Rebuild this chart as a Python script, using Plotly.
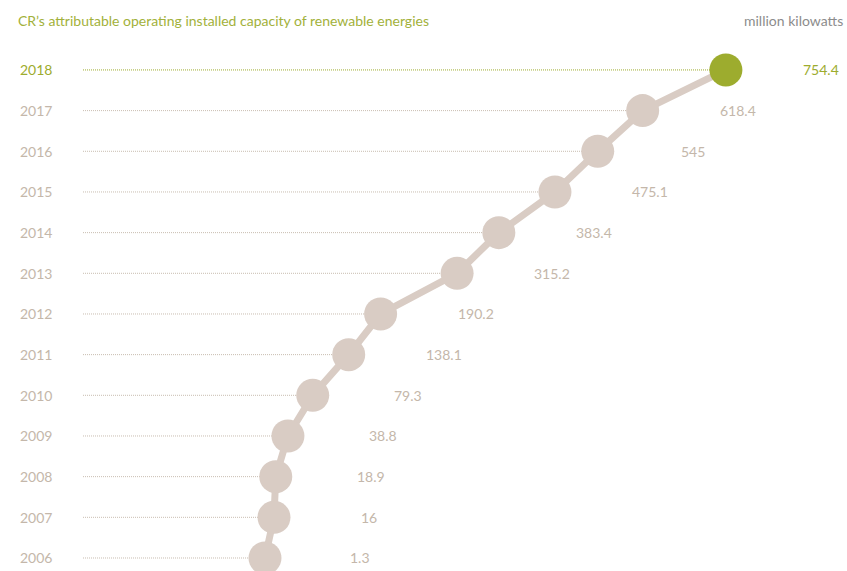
import plotly.graph_objects as go

years = [2006, 2007, 2008, 2009, 2010, 2011, 2012, 2013, 2014, 2015, 2016, 2017, 2018]
values = [1.3, 16, 18.9, 38.8, 79.3, 138.1, 190.2, 315.2, 383.4, 475.1, 545, 618.4, 754.4]
value_labels = ["1.3", "16", "18.9", "38.8", "79.3", "138.1", "190.2", "315.2", "383.4", "475.1", "545", "618.4", "754.4"]
title_text = "CR\u2019s attributable operating installed capacity of renewable energies"
unit_text = "million kilowatts"

W, H = 847, 571
GREEN = "#9dac2e"
BEIGE = "#d9ccc4"
LABEL = "#c4b7aa"
FONT = "Lato"

# axis ranges (layout)
x_min, x_max = -431.7, 952.3
y_min, y_max = 2005.68, 2019.72
px_per_unit = W / (x_max - x_min)
line_start = x_min + 83 / px_per_unit

fig = go.Figure()

# dotted guide lines
for yr, v in zip(years, values):
    col = GREEN if yr == years[-1] else "#c9bdb1"
    fig.add_trace(go.Scatter(
        x=[line_start, v], y=[yr, yr], mode="lines",
        line=dict(color=col, width=1, dash="1px,1px"),
        hoverinfo="skip", showlegend=False, cliponaxis=False))

# connecting line
fig.add_trace(go.Scatter(
    x=values, y=years, mode="lines",
    line=dict(color=BEIGE, width=7),
    hoverinfo="skip", showlegend=False, cliponaxis=False))

# markers
colors = [BEIGE] * (len(years) - 1) + [GREEN]
fig.add_trace(go.Scatter(
    x=values, y=years, mode="markers",
    marker=dict(size=33, color=colors, line=dict(width=0)),
    showlegend=False, cliponaxis=False))

# value labels and year labels
for yr, v, lab in zip(years, values, value_labels):
    col = GREEN if yr == years[-1] else LABEL
    fig.add_annotation(x=v, y=yr, text=lab, showarrow=False, xanchor="center",
                       xshift=95, font=dict(size=14, color=col, family=FONT))
    fig.add_annotation(x=36 / W, xref="paper", y=yr, text=str(yr), showarrow=False,
                       xanchor="center", font=dict(size=14, color=col, family=FONT))

fig.add_annotation(x=16 / W, xref="paper", y=1 - 20 / H, yref="paper", text=title_text,
                   showarrow=False, xanchor="left", yanchor="middle",
                   font=dict(size=14, color="#a2b13a", family=FONT))
fig.add_annotation(x=845 / W, xref="paper", y=1 - 20 / H, yref="paper", text=unit_text,
                   showarrow=False, xanchor="right", yanchor="middle",
                   font=dict(size=14, color="#8c8c8c", family=FONT))

fig.update_layout(
    width=W, height=H,
    margin=dict(l=0, r=0, t=0, b=0),
    paper_bgcolor="white", plot_bgcolor="white",
    xaxis=dict(range=[x_min, x_max], visible=False, fixedrange=True),
    yaxis=dict(range=[y_min, y_max], visible=False, fixedrange=True),
)

fig.write_html("out.html", config={"displayModeBar": False},
               post_script="document.body.style.margin='0';document.body.style.overflow='hidden';")
